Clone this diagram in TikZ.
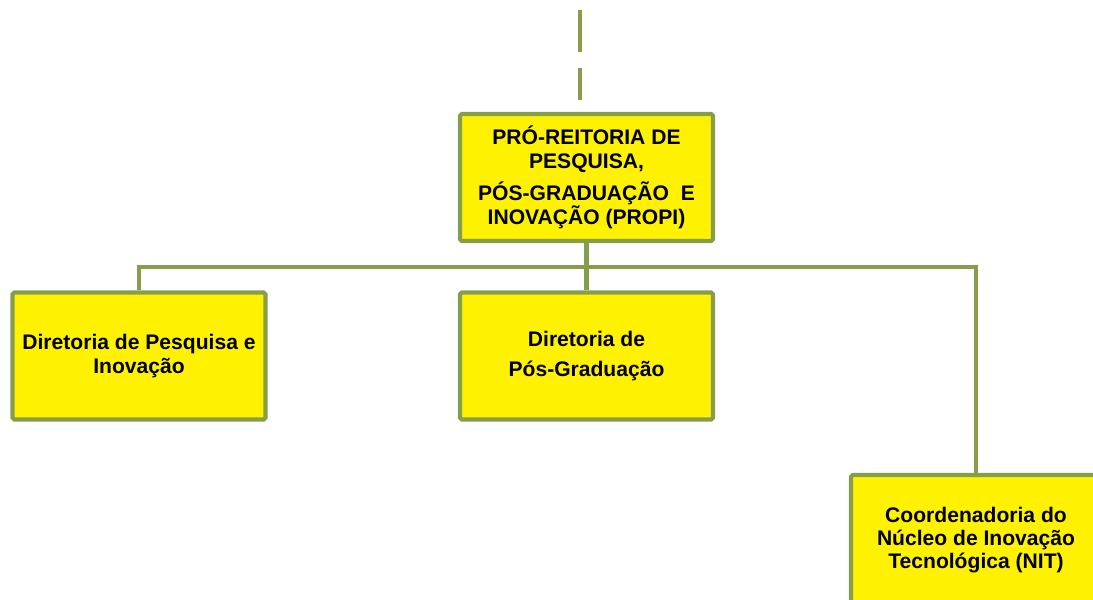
\documentclass[tikz,border=0pt]{standalone}
\usepackage{fontspec}
\setmainfont{Liberation Sans}
\definecolor{verdeoliva}{RGB}{134,158,74}
\tikzset{
  caixa/.style={draw=verdeoliva,line width=2.3pt,fill=yellow,rounded corners=1pt,
    minimum width=253\unitpx,minimum height=127\unitpx,align=center,inner sep=0pt,
    font=\fontsize{12}{13}\selectfont\bfseries},
  ramo/.style={draw=verdeoliva,line width=2.8pt},
  ramofino/.style={draw=verdeoliva,line width=1.8pt},
}
\newlength{\unitpx}
\setlength{\unitpx}{0.02cm}
\begin{document}
\begin{tikzpicture}[x=0.02cm,y=-0.02cm]
    % 1 unita = 1 pixel del riferimento (1093x599)
    \clip (0,0) rectangle (1093,599);
    \coordinate (topo) at (580,10);
    \coordinate (fimtopo) at (580,100);
    \draw[verdeoliva,line width=2.8pt,dash pattern=on 23.8pt off 9pt] (topo) -- (fimtopo); %linha tracejada
    \node[caixa] (propi) at (586.5,177.5) {PRÓ-REITORIA DE\\[0.6pt] PESQUISA,\\[4pt] PÓS-GRADUAÇÃO~~E\\[-0.5pt] INOVAÇÃO (PROPI)};
    \node[caixa] (dirpesq) at (139,356) {Diretoria de Pesquisa e\\[0.6pt] Inovação};
    \node[caixa] (dirpos) at (586.5,356) {Diretoria de\\[4pt] Pós-Graduação};
    \node[caixa,minimum width=250\unitpx,minimum height=130\unitpx] (nit) at (976,540) {Coordenadoria do\\ Núcleo de Inovação\\ Tecnológica (NIT)};
    \coordinate (juncao) at (586.5,267);
    \coordinate (canto) at (976,293);
    \draw[ramo] (propi.south) -- (juncao); %tronco
    \draw[ramo] (dirpesq.north) |- (juncao) -| (canto); %barra
    \draw[ramo] (juncao) -- (dirpos.north);
    \draw[ramofino] (canto) -- (nit.north);
  \end{tikzpicture}
\end{document}
